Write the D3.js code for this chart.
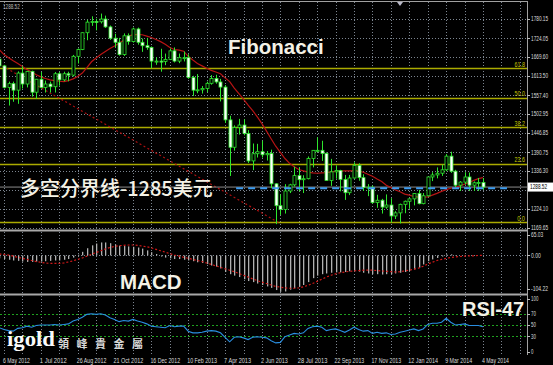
<!DOCTYPE html>
<html><head><meta charset="utf-8">
<script src="https://cdn.jsdelivr.net/npm/d3@7"></script>
<style>html,body{margin:0;padding:0;background:#000;overflow:hidden}</style>
</head><body><svg id="c" width="553" height="365" xmlns="http://www.w3.org/2000/svg"></svg>
<script>
// ---- DATA (weekly XAUUSD, first bar = week -1, i.e. 29 Apr 2012) ----
const firstWeek = -1;
const opens  = [1663,1643,1580,1591,1572,1622,1590,1627,1566,1604,1580,1590,1582,1620,1602,1620,1616,1671,1691,1740,1771,1773,1772,1780,1757,1724,1712,1676,1731,1714,1751,1712,1702,1697,1657,1657,1656,1662,1687,1657,1667,1667,1609,1572,1573,1577,1592,1606,1596,1581,1485,1405,1463,1470,1445,1365,1386,1392,1383,1387,1298,1234,1223,1277,1295,1322,1310,1313,1372,1396,1396,1387,1308,1333,1337,1311,1272,1315,1352,1316,1287,1288,1243,1250,1230,1236,1204,1213,1238,1247,1254,1270,1240,1263,1318,1324,1329,1339,1379,1335,1294,1303,1318,1294,1301,1302];
const highs  = [1668,1646,1597,1597,1627,1642,1628,1629,1605,1625,1600,1597,1625,1625,1626,1626,1675,1694,1741,1778,1788,1781,1796,1790,1761,1737,1725,1738,1738,1755,1755,1723,1725,1700,1668,1693,1679,1694,1697,1679,1685,1677,1614,1619,1584,1597,1616,1617,1605,1587,1497,1469,1488,1487,1455,1416,1415,1424,1394,1398,1300,1267,1297,1298,1348,1347,1323,1378,1397,1434,1424,1390,1371,1352,1339,1324,1324,1361,1358,1326,1297,1293,1266,1254,1267,1256,1218,1240,1249,1256,1271,1280,1271,1319,1332,1346,1354,1385,1392,1339,1306,1332,1331,1305,1315,1315];
const lows   = [1634,1577,1527,1538,1532,1577,1580,1553,1547,1577,1565,1565,1565,1585,1598,1598,1612,1650,1689,1718,1760,1747,1767,1754,1719,1697,1673,1672,1705,1711,1705,1684,1690,1636,1646,1626,1645,1660,1653,1651,1656,1605,1555,1563,1562,1566,1588,1591,1539,1476,1321,1395,1442,1440,1359,1338,1375,1375,1366,1285,1180,1207,1211,1271,1290,1276,1271,1311,1346,1390,1365,1308,1292,1313,1276,1251,1265,1313,1307,1277,1262,1240,1228,1211,1225,1185,1195,1182,1212,1225,1235,1238,1238,1261,1306,1314,1321,1335,1330,1288,1277,1296,1277,1277,1277,1280];
const closes = [1643,1580,1591,1572,1622,1590,1627,1566,1604,1580,1590,1582,1620,1602,1620,1616,1671,1691,1740,1771,1773,1772,1780,1757,1724,1712,1676,1731,1714,1751,1712,1702,1697,1657,1657,1656,1662,1687,1657,1667,1667,1609,1572,1573,1577,1592,1606,1596,1581,1485,1405,1463,1470,1445,1365,1386,1392,1383,1387,1298,1234,1223,1277,1295,1322,1310,1313,1372,1396,1396,1387,1308,1333,1337,1311,1272,1315,1352,1316,1287,1288,1243,1250,1230,1236,1204,1213,1238,1247,1254,1270,1240,1263,1318,1324,1329,1339,1379,1335,1294,1303,1318,1294,1301,1302,1288.52];
const maValues = [1690,1676,1667,1658,1650,1641,1632,1625,1617,1611,1606,1602,1600,1598,1597,1600,1605,1612,1622,1638,1655,1666,1676,1685,1694,1701,1709,1718,1730,1734,1735,1734,1730,1726,1720,1714,1706,1697,1691,1689,1686,1671,1660,1650,1643,1636,1630,1625,1620,1608,1597,1578,1562,1546,1528,1512,1494,1474,1452,1430,1408,1390,1372,1358,1348,1340,1336,1332,1330,1329,1330,1331,1333,1334,1335,1336,1336,1336,1336,1332,1326,1320,1312,1305,1294,1287,1280,1275,1268,1265,1261,1259,1259,1260,1265,1270,1276,1281,1285,1288,1292,1297,1302,1308,1313,1316];
const macdValues = [-8,-10,-12,-14,-15,-17,-18,-18,-17,-17,-16,-15,-14,-14,-12,-10,-6,2,10,20,28,33,36,36,34,30,27,26,25,24,22,19,14,9,4,-3,-6,-8,-10,-10,-12,-14,-16,-19,-21,-24,-28,-31,-36,-46,-52,-56,-60,-66,-71,-74,-78,-82,-86,-90,-96,-101,-100,-95,-91,-87,-82,-74,-63,-56,-52,-50,-48,-47,-47,-46,-44,-43,-45,-48,-50,-52,-52,-53,-52,-52,-50,-48,-46,-43,-39,-34,-25,-16,-11,-7,-3,3,3,1,0,0,0,0,0,0];
const signalValues = [4,3,1,-2,-5,-8,-11,-14,-17,-19,-21,-22,-22,-22,-21,-18,-15,-11,-7,-2,3,8,13,18,22,25,27,28,29,29,28,26,24,21,17,13,9,5,1,-2,-5,-8,-11,-14,-17,-21,-25,-29,-33,-37,-41,-45,-50,-55,-60,-65,-70,-74,-78,-82,-86,-88,-90,-91,-91,-90,-87,-83,-78,-72,-66,-60,-55,-51,-48,-46,-44,-43,-42,-41,-41,-41,-42,-43,-44,-45,-46,-45,-43,-41,-38,-35,-30,-24,-19,-14,-11,-8,-6,-4,-3,-2,-1,-1,0,0];
const rsiValues = [45,42,40,39,44,45,48,46,49,50,50,50,51,50,51,52,57,60,64,69,70,69,70,68,63,60,56,58,57,60,57,55,52,48,47,46,45,49,47,48,48,39,36,36,37,39,40,39,36,28,20,28,29,27,24,28,29,28,27,22,18,19,29,32,35,34,36,44,47,48,46,40,42,43,40,37,41,46,42,39,40,35,37,35,36,33,34,37,39,41,43,40,43,51,53,53,55,62,55,50,51,52,49,49,49,47];
const dateLabels = ["6 May 2012","1 Jul 2012","26 Aug 2012","21 Oct 2012","16 Dec 2012","10 Feb 2013","7 Apr 2013","2 Jun 2013","28 Jul 2013","22 Sep 2013","17 Nov 2013","12 Jan 2014","9 Mar 2014","4 May 2014"];
const dateLabelWeeks = [0,8,16,24,32,40,48,56,64,72,80,88,96,104];
const priceTicks = [1780.15,1724.05,1669.60,1613.50,1557.40,1502.95,1446.85,1390.75,1336.30,1280.20,1224.10,1169.65];
const currentPrice = 1288.52;
const fibLow = 1185, fibHigh = 1915;
const fibLevels = [0,23.6,38.2,50,61.8];
const fibLabels = ["0.0","23.6","38.2","50.0","61.8"];
const fibTrend = [{week:-36, price:1915},{week:59.6, price:1185}];
const pivotLevel = 1285, pivotWeeks = [50.4,109.2];
const macdTicks = [65.03,0,-104.22], macdTickLabels = ["65.03","0.00","-104.22"];
const rsiTicks = [100,70,50,30,0];
const rsiLevels = [70,50,30];

// ---- LAYOUT ----
const svg = d3.select('#c');
const R = 527;
const x = d3.scaleLinear().domain([0,104]).range([4,483]);
const yM = d3.scaleLinear().domain([1169.65,1780.15]).range([227.7,19]);
const yD = d3.scaleLinear().domain([-104.22,65.03]).range([293,232]);
const yR = d3.scaleLinear().domain([0,100]).range([353,297]);
const panels = {main:[2,229], macd:[232,293], rsi:[296,354]};
const bars = opens.map((o,k)=>({w:firstWeek+k,o,h:highs[k],l:lows[k],c:closes[k],ma:maValues[k],macd:macdValues[k],sig:signalValues[k],rsi:rsiValues[k]}));

svg.append('rect').attr('width',553).attr('height',365).attr('fill','#000');
const defs = svg.append('defs');
Object.entries(panels).forEach(([k,[t,b]])=>{
  defs.append('clipPath').attr('id','clip-'+k).append('rect').attr('x',0).attr('y',t).attr('width',R).attr('height',b-t);
});
const gridCol = '#7c8590', font = 'Liberation Sans, Arial, sans-serif';

// narrow pixel-style text: measured, then squeezed horizontally to the reference width
const small = (g,xp,yp,t,col,per,anchorEnd=false)=>{
  const el = g.append('text').attr('font-family',font).attr('font-size',6.8).attr('fill',col).text(t);
  const len = el.node().getComputedTextLength() || 1;
  const target = t.length*per, s = target/len;
  const x0 = anchorEnd ? xp - target : xp;
  el.attr('transform',`translate(${x0},${yp}) scale(${s},1)`);
  return el;
};

// vertical grid
const gridWeeks = d3.range(0,116,4).filter(w=>x(w)<R);
Object.entries(panels).forEach(([k,[t,b]])=>{
  svg.append('g').selectAll('line').data(gridWeeks).join('line')
    .attr('x1',d=>Math.round(x(d))+0.5).attr('x2',d=>Math.round(x(d))+0.5).attr('y1',t).attr('y2',b)
    .attr('stroke',gridCol).attr('stroke-width',1).attr('stroke-dasharray','1,2');
});
// horizontal grid main
const gMain = svg.append('g').attr('clip-path','url(#clip-main)');
gMain.selectAll('line.hg').data(priceTicks).join('line').attr('class','hg')
  .attr('x1',0).attr('x2',R).attr('y1',d=>Math.round(yM(d))+0.5).attr('y2',d=>Math.round(yM(d))+0.5)
  .attr('stroke',gridCol).attr('stroke-dasharray','1,2');

// fib levels
const fibCol = '#aaaa00';
const fibPrice = l => fibLow + (fibHigh-fibLow)*l/100;
gMain.selectAll('line.fib').data(fibLevels).join('line').attr('class','fib')
  .attr('x1',0).attr('x2',R).attr('y1',d=>Math.round(yM(fibPrice(d)))+0.5).attr('y2',d=>Math.round(yM(fibPrice(d)))+0.5)
  .attr('stroke',fibCol).attr('stroke-width',1.3);
fibLevels.forEach((l,i)=>small(gMain,525,yM(fibPrice(l))-1.5,fibLabels[i],'#c8c800',2.6,true));

// fib trend line
gMain.append('line')
  .attr('x1',x(fibTrend[0].week)).attr('y1',yM(fibTrend[0].price))
  .attr('x2',x(fibTrend[1].week)).attr('y2',yM(fibTrend[1].price))
  .attr('stroke','#b01010').attr('stroke-width',1.2).attr('stroke-dasharray','2,2.5');

// bid line
gMain.append('line').attr('x1',0).attr('x2',R).attr('y1',yM(currentPrice)).attr('y2',yM(currentPrice))
  .attr('stroke','#8a8a8a').attr('stroke-width',1);

// MA
gMain.append('path').datum(bars).attr('fill','none').attr('stroke','#b81414').attr('stroke-width',1.2)
  .attr('d',d3.line().x(d=>x(d.w)).y(d=>yM(d.ma)));

// candles
const candleCol = '#2ee62e';
const cg = gMain.append('g');
cg.selectAll('line.wick').data(bars).join('line').attr('class','wick')
  .attr('x1',d=>Math.round(x(d.w))+0.5).attr('x2',d=>Math.round(x(d.w))+0.5)
  .attr('y1',d=>yM(d.h)).attr('y2',d=>yM(d.l)).attr('stroke',candleCol).attr('stroke-width',1);
cg.selectAll('rect.body').data(bars).join('rect').attr('class','body')
  .attr('x',d=>Math.round(x(d.w))-1).attr('width',3)
  .attr('y',d=>yM(Math.max(d.o,d.c))).attr('height',d=>Math.max(1,Math.abs(yM(d.o)-yM(d.c))))
  .attr('fill',d=>d.c<d.o?'#ffffff':'#000000').attr('stroke',candleCol).attr('stroke-width',0.8);

// pivot dashed
gMain.append('line').attr('x1',x(pivotWeeks[0])).attr('x2',x(pivotWeeks[1]))
  .attr('y1',yM(pivotLevel)).attr('y2',yM(pivotLevel))
  .attr('stroke','#3d9cf0').attr('stroke-width',2.2).attr('stroke-dasharray','7,5');

// MACD panel
const gD = svg.append('g').attr('clip-path','url(#clip-macd)');
gD.append('line').attr('x1',0).attr('x2',R).attr('y1',Math.round(yD(0))+0.5).attr('y2',Math.round(yD(0))+0.5)
  .attr('stroke',gridCol).attr('stroke-dasharray','1,2');
gD.selectAll('rect').data(bars).join('rect')
  .attr('x',d=>Math.round(x(d.w))).attr('width',1.3)
  .attr('y',d=>Math.min(yD(0),yD(d.macd))).attr('height',d=>Math.abs(yD(d.macd)-yD(0)))
  .attr('fill','#b0b0b0');
gD.append('path').datum(bars).attr('fill','none').attr('stroke','#d01818').attr('stroke-width',1.2)
  .attr('stroke-dasharray','2,2').attr('d',d3.line().x(d=>x(d.w)).y(d=>yD(d.sig)));

// RSI panel
const gR = svg.append('g').attr('clip-path','url(#clip-rsi)');
gR.selectAll('line').data(rsiLevels).join('line')
  .attr('x1',0).attr('x2',R).attr('y1',d=>Math.round(yR(d))+0.5).attr('y2',d=>Math.round(yR(d))+0.5)
  .attr('stroke','#1fa01f').attr('stroke-dasharray','2,2');
gR.append('path').datum(bars).attr('fill','none').attr('stroke','#2a8ee0').attr('stroke-width',1.1)
  .attr('d',d3.line().x(d=>x(d.w)).y(d=>yR(d.rsi)));

// frame / separators
svg.append('line').attr('x1',0).attr('x2',R).attr('y1',1.5).attr('y2',1.5).attr('stroke','#a0a0a0');
svg.append('rect').attr('x',0).attr('y',229.5).attr('width',R+1).attr('height',2).attr('fill','#a8a8a8');
svg.append('rect').attr('x',0).attr('y',293.5).attr('width',R+1).attr('height',2).attr('fill','#a8a8a8');
svg.append('line').attr('x1',R+0.5).attr('x2',R+0.5).attr('y1',1).attr('y2',355).attr('stroke','#a0a0a0');
svg.append('path').attr('d','M397,2 L403,2 L400,6 Z').attr('fill','#b8b8c8');

// axis labels
const axT = (g,y,t,showText=true)=>{
  g.append('line').attr('x1',R).attr('x2',R+3).attr('y1',Math.round(y)+0.5).attr('y2',Math.round(y)+0.5).attr('stroke','#bbb');
  if(showText) small(g,531,y+2.4,t,'#dcdcdc',2.45);
};
const ax = svg.append('g');
priceTicks.forEach(p=>axT(ax,yM(p),p.toFixed(2),Math.abs(yM(p)-yM(currentPrice))>6));
macdTicks.forEach((v,i)=>axT(ax,Math.min(289,Math.max(234.5,yD(v))),macdTickLabels[i]));
rsiTicks.forEach(v=>axT(ax,Math.min(351.5,Math.max(299,yR(v))),String(v)));
// current price box
ax.append('rect').attr('x',528).attr('y',yM(currentPrice)-4.5).attr('width',25).attr('height',9).attr('fill','#fff');
small(ax,530,yM(currentPrice)+2.4,currentPrice.toFixed(2),'#000',2.45);
// date labels
dateLabelWeeks.forEach((w,i)=>small(ax,Math.max(1,x(w)-1),362.5,dateLabels[i],'#dcdcdc',2.7));
small(ax,3,8.5,currentPrice.toFixed(2),'#bbb',2.4);

// annotation texts
const txtCol = '#f4f2e6';
svg.append('text').attr('x',228).attr('y',54).attr('font-family',font).attr('font-weight','bold').attr('font-size',20.5).attr('fill',txtCol).text('Fibonacci');
svg.append('text').attr('x',20).attr('y',196).attr('font-family','Noto Sans CJK SC, sans-serif').attr('font-weight',500).attr('font-size',20).attr('fill',txtCol).text('多空分界线-1285美元');
svg.append('text').attr('x',120).attr('y',289).attr('font-family',font).attr('font-weight','bold').attr('font-size',20.5).attr('fill',txtCol).text('MACD');
svg.append('text').attr('x',462).attr('y',315.5).attr('font-family',font).attr('font-weight','bold').attr('font-size',20).attr('fill',txtCol).text('RSI-47');
// logo
const logo = svg.append('text').attr('font-family','Liberation Serif, serif').attr('font-weight','bold').attr('font-size',20)
  .attr('fill','#fafafa').text('igold');
const lw = logo.node().getComputedTextLength() || 1;
logo.attr('transform',`translate(7,346) scale(${48/lw},1)`);
['領','峰','貴','金','屬'].forEach((ch,i)=>{
  svg.append('text').attr('x',58+18.5*i).attr('y',347.5).attr('font-family','Noto Sans CJK TC, sans-serif').attr('font-weight','bold')
    .attr('font-size',11).attr('fill','#d8d8d8').text(ch);
});
</script></body></html>
